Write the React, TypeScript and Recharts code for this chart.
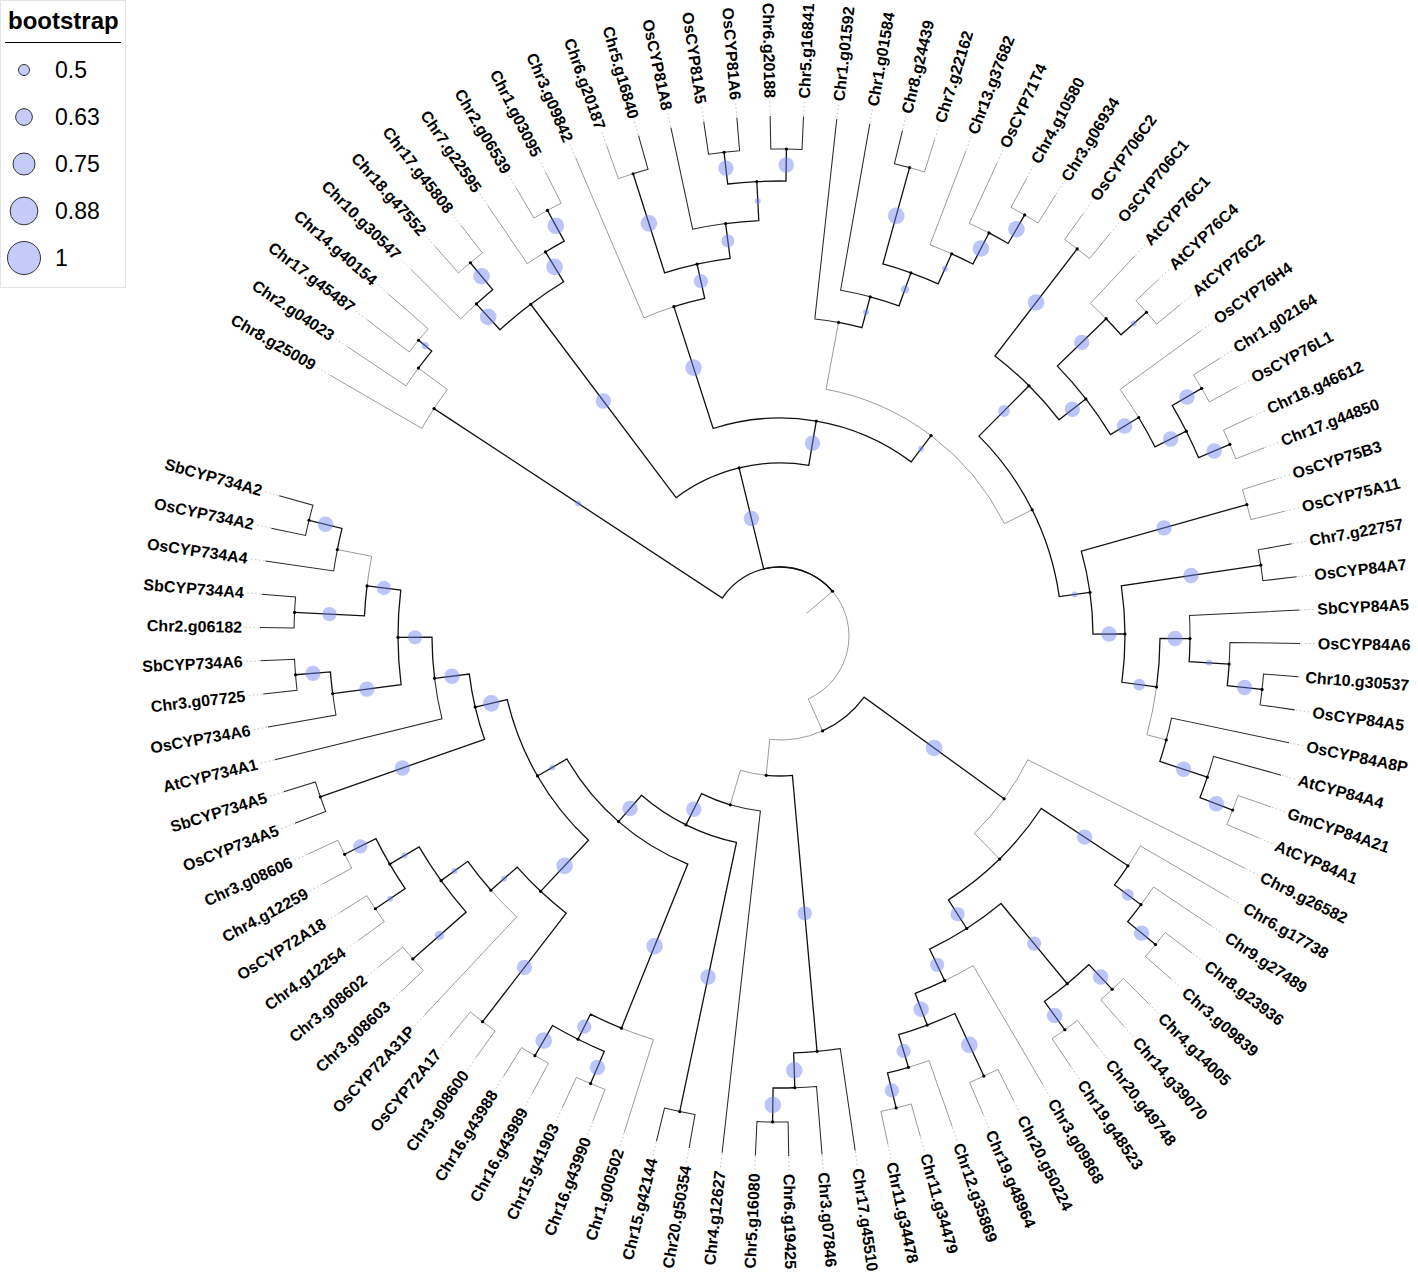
import React from "react";
import * as Recharts from "recharts";
import { ScatterChart, Scatter, XAxis, YAxis, Customized } from "recharts";

// leaves, clockwise from the upper left
const leafNames = [
  "Chr8.g25009", "Chr2.g04023", "Chr17.g45487", "Chr14.g40154", "Chr10.g30547",
  "Chr18.g47552", "Chr17.g45808", "Chr7.g22595", "Chr2.g06539", "Chr1.g03095",
  "Chr3.g09842", "Chr6.g20187", "Chr5.g16840", "OsCYP81A8", "OsCYP81A5",
  "OsCYP81A6", "Chr6.g20188", "Chr5.g16841", "Chr1.g01592", "Chr1.g01584",
  "Chr8.g24439", "Chr7.g22162", "Chr13.g37682", "OsCYP71T4", "Chr4.g10580",
  "Chr3.g06934", "OsCYP706C2", "OsCYP706C1", "AtCYP76C1", "AtCYP76C4",
  "AtCYP76C2", "OsCYP76H4", "Chr1.g02164", "OsCYP76L1", "Chr18.g46612",
  "Chr17.g44850", "OsCYP75B3", "OsCYP75A11", "Chr7.g22757", "OsCYP84A7",
  "SbCYP84A5", "OsCYP84A6", "Chr10.g30537", "OsCYP84A5", "OsCYP84A8P",
  "AtCYP84A4", "GmCYP84A21", "AtCYP84A1", "Chr9.g26582", "Chr6.g17738",
  "Chr9.g27489", "Chr8.g23936", "Chr3.g09839", "Chr4.g14005", "Chr14.g39070",
  "Chr20.g49748", "Chr19.g48523", "Chr3.g09868", "Chr20.g50224", "Chr19.g48964",
  "Chr12.g35869", "Chr11.g34479", "Chr11.g34478", "Chr17.g45510", "Chr3.g07846",
  "Chr6.g19425", "Chr5.g16080", "Chr4.g12627", "Chr20.g50354", "Chr15.g42144",
  "Chr1.g00502", "Chr16.g43990", "Chr15.g41903", "Chr16.g43989", "Chr16.g43988",
  "Chr3.g08600", "OsCYP72A17", "OsCYP72A31P", "Chr3.g08603", "Chr3.g08602",
  "Chr4.g12254", "OsCYP72A18", "Chr4.g12259", "Chr3.g08606", "OsCYP734A5",
  "SbCYP734A5", "AtCYP734A1", "OsCYP734A6", "Chr3.g07725", "SbCYP734A6",
  "Chr2.g06182", "SbCYP734A4", "OsCYP734A4", "OsCYP734A2", "SbCYP734A2",
];

type Child = string | number; // number = leaf position (1-based)

const nodeChildren: Record<string, Child[]> = {
  root: ["N1", "T", "A"],
  N1: [1, "N2"], N2: [2, "N3"], N3: [3, 4],
  T: ["Q3", "T2"],
  Q3: ["P1", "Q2"], P1: [5, "P2"], P2: [6, 7], Q2: [8, "Q1"], Q1: [9, 10],
  T2: ["U", "Z0"],
  U: [11, "V"], V: ["W", "Y4"], W: [12, 13], Y4: [14, "Y3"], Y3: ["Y1", "Y2"],
  Y1: [15, 16], Y2: [17, 18],
  Z0: ["Z1", "Z7"], Z1: [19, "Z2"], Z2: [20, "Z3"], Z3: ["ZP", "Z4"], ZP: [21, 22],
  Z4: [23, "Z5"], Z5: [24, "Z6"], Z6: [25, 26],
  Z7: ["Z8", "Z17"], Z8: ["Z9", "Z10"], Z9: [27, 28], Z10: ["Z11", "Z13"],
  Z11: [29, "Z12"], Z12: [30, 31], Z13: [32, "Z14"], Z14: ["Z15", "Z16"],
  Z15: [33, 34], Z16: [35, 36],
  Z17: ["Z18", "R1"], Z18: [37, 38], R1: ["R8", "R2"], R8: [39, 40],
  R2: ["R3", "R4"], R3: [41, "R5"], R5: [42, "R9"], R9: [43, 44],
  R4: [45, "R6"], R6: [46, "R7"], R7: [47, 48],
  A: ["A1", "A2"],
  A1: [49, "A3"], A3: ["A4", "A7"], A4: [50, "A5"], A5: [51, "A6"], A6: [52, 53],
  A7: ["A8", "A11"], A8: ["A9", "A10"], A9: [54, 55], A10: [56, 57],
  A11: [58, "A12"], A12: ["A13", "A14"], A13: [59, 60], A14: [61, "A15"], A15: [62, 63],
  A2: ["A16", "A19"], A16: [64, "A17"], A17: [65, "A18"], A18: [66, 67],
  A19: [68, "A21"], A21: ["X", "Y"], X: [69, 70], Y: ["B1", "C1"],
  B1: [71, "B2"], B2: ["B4", "B3"], B4: [72, 73], B3: [74, 75],
  C1: ["C2", "C3"], C2: ["C4", "C5"], C4: [76, 77], C5: [78, "C6"],
  C6: ["C7", "C8"], C7: [79, 80], C8: ["C9", "C10"], C9: [81, 82], C10: [83, 84],
  C3: ["C11", "C12"], C11: [85, 86], C12: [87, "C13"], C13: ["C14", "C16"],
  C14: [88, "C15"], C15: [89, 90], C16: ["C17", "C18"], C17: [91, 92],
  C18: [93, "C19"], C19: [94, 95],
};

// distance of each internal node from the centre (tips sit at 520)
const nodeDepth: Record<string, number> = {
  root: 69, N1: 414, N2: 450, N3: 467,
  T: 173, Q3: 415, P1: 450, P2: 485, Q2: 450, Q1: 485,
  T2: 218, U: 346, V: 381, W: 485, Y4: 416, Y3: 455, Y1: 487, Y2: 487,
  Z0: 251, Z1: 319, Z2: 351, Z3: 386, ZP: 486, Z4: 419, Z5: 454, Z6: 487,
  Z7: 282, Z8: 353, Z9: 488, Z10: 387, Z11: 455, Z12: 489, Z13: 420, Z14: 455,
  Z15: 489, Z16: 489,
  Z17: 313, Z18: 485, R1: 345, R8: 486, R2: 380, R3: 410, R5: 450, R9: 485,
  R4: 400, R6: 450, R7: 485,
  A: 104, A1: 277, A3: 313, A4: 417, A5: 450, A6: 486, A7: 347, A8: 451, A9: 485,
  A10: 486, A11: 382, A12: 416, A13: 485, A14: 450, A15: 486,
  A2: 140, A16: 417, A17: 452, A18: 486,
  A19: 176, A21: 211, X: 486, Y: 246, B1: 423, B2: 451, B4: 486, B3: 486,
  C1: 280, C2: 350, C4: 487, C5: 385, C6: 418, C7: 489, C8: 452, C9: 488, C10: 487,
  C3: 313, C11: 487, C12: 348, C13: 382, C14: 451, C15: 486, C16: 416, C17: 486,
  C18: 451, C19: 485,
};

// bootstrap support of the branch leading to a node
const nodeSupport: Record<string, number> = {
  N1: 0.5, N3: 0.55, T: 0.9, Q3: 0.9, P1: 0.95, P2: 0.95, Q2: 0.95, Q1: 0.95,
  T2: 0.9, U: 0.95, V: 0.85, W: 0.95, Y4: 0.8, Y3: 0.5, Y1: 0.9, Y2: 0.9,
  Z0: 0.5, Z2: 0.5, Z3: 0.6, ZP: 0.95, Z4: 0.5, Z5: 0.95, Z6: 0.95,
  Z8: 0.75, Z9: 0.95, Z10: 0.9, Z11: 0.9, Z12: 0.5, Z13: 0.9, Z14: 0.9, Z15: 0.9, Z16: 0.9,
  Z17: 0.5, Z18: 0.9, R1: 0.9, R8: 0.9, R2: 0.75, R3: 0.9, R5: 0.5, R9: 0.9,
  R6: 0.9, R7: 0.9,
  A1: 0.95, A4: 0.9, A5: 0.75, A6: 0.9, A7: 0.85, A8: 0.85, A9: 0.9, A10: 0.9,
  A11: 0.85, A12: 0.9, A13: 0.95, A14: 0.85, A15: 0.85,
  A16: 0.85, A17: 0.95, A18: 0.95,
  A21: 0.9, X: 0.9, Y: 0.9, B1: 0.95, B2: 0.85, B4: 0.9, B3: 0.95,
  C1: 0.5, C2: 0.95, C4: 0.9, C5: 0.5, C6: 0.5, C7: 0.65, C8: 0.5, C9: 0.5, C10: 0.85,
  C3: 0.95, C11: 0.9, C12: 0.9, C13: 0.85, C14: 0.9, C15: 0.9, C16: 0.85, C17: 0.85,
  C19: 0.9,
};

// leaves whose terminal branch is drawn dark in the figure
const darkLeaves = [
  13, 14, 15, 16, 17, 18, 19, 20, 21, 39, 40, 41, 42, 43, 44, 45, 46,
  64, 65, 66, 67, 68, 69, 70, 85, 86, 87, 88, 89, 90, 91, 92, 93, 94, 95,
];

const legendBreaks = [0.5, 0.63, 0.75, 0.88, 1];

// ---- layout ----
const W = 1418;
const H = 1277;
const X_DOMAIN = [-780, 638];
const Y_DOMAIN = [-641, 636];
const FIRST_ANGLE = -149.9;
const ANGLE_STEP = 3.676;
const TIP_DEPTH = 520;
const LABEL_DEPTH = 538;
const ROOT_EDGE_FROM = 35;
const LABEL_FONT = 16;
const labelInset: Record<number, number> = { 43: 11 };

const angleMemo: Record<string, number> = {};
function angleOf(c: Child): number {
  if (typeof c === "number") return FIRST_ANGLE + (c - 1) * ANGLE_STEP;
  if (angleMemo[c] === undefined) {
    const ch = nodeChildren[c];
    angleMemo[c] = (angleOf(ch[0]) + angleOf(ch[ch.length - 1])) / 2;
  }
  return angleMemo[c];
}
const depthOf = (c: Child) => (typeof c === "number" ? TIP_DEPTH : nodeDepth[c]);
const rad = (a: number) => (a * Math.PI) / 180;
const polar = (r: number, a: number) => ({ x: r * Math.cos(rad(a)), y: -r * Math.sin(rad(a)) });

const parentOf: Record<string, string> = {};
Object.keys(nodeChildren).forEach((id) =>
  nodeChildren[id].forEach((c) => {
    if (typeof c === "string") parentOf[c] = id;
  })
);

const edgeWeight = (c: Child) => {
  if (typeof c === "number") return darkLeaves.includes(c) ? 1 : 0;
  return nodeSupport[c] !== undefined ? 2 : 0;
};

const edges = Object.keys(nodeChildren).flatMap((id) =>
  nodeChildren[id].map((c) => ({
    key: `${id}-${c}`,
    pr: nodeDepth[id],
    pa: angleOf(id),
    cr: depthOf(c),
    ca: angleOf(c),
    weight: edgeWeight(c),
  }))
);

const nodePoints = Object.keys(nodeChildren).map((id) => ({ id, ...polar(nodeDepth[id], angleOf(id)) }));

const supportPoints = Object.keys(nodeSupport).map((id) => ({
  id,
  b: nodeSupport[id],
  ...polar((nodeDepth[id] + nodeDepth[parentOf[id]]) / 2, angleOf(id)),
}));

const labelPoints = leafNames.map((name, i) => ({
  name,
  angle: angleOf(i + 1),
  ...polar(LABEL_DEPTH - (labelInset[i + 1] || 0), angleOf(i + 1)),
}));

const legendRadius = (b: number) => 5.5 + (b - 0.5) * 22;

// ---- drawing ----
const RC: any = Recharts;

function usePixelMap() {
  const xs = RC.useXAxisScale ? RC.useXAxisScale() : undefined;
  const ys = RC.useYAxisScale ? RC.useYAxisScale() : undefined;
  const px = (v: number) => {
    const s = typeof xs === "function" ? xs(v) : undefined;
    return typeof s === "number" && !isNaN(s) ? s : ((v - X_DOMAIN[0]) / (X_DOMAIN[1] - X_DOMAIN[0])) * W;
  };
  const py = (v: number) => {
    const s = typeof ys === "function" ? ys(v) : undefined;
    return typeof s === "number" && !isNaN(s) ? s : ((Y_DOMAIN[1] - v) / (Y_DOMAIN[1] - Y_DOMAIN[0])) * H;
  };
  return { px, py };
}

const edgeStroke = ["#7a7a7a", "#2a2a2a", "#111"];
const edgeWidth = [0.75, 1.05, 1.3];

function BranchLayer() {
  const { px, py } = usePixelMap();
  const k = Math.abs(px(100) - px(0)) / 100;
  const pt = (r: number, a: number) => {
    const p = polar(r, a);
    return [px(p.x), py(p.y)];
  };
  const drawEdge = (e: (typeof edges)[number]) => {
    const [ax, ay] = pt(e.pr, e.pa);
    const [bx, by] = pt(e.pr, e.ca);
    const [cx, cy] = pt(e.cr, e.ca);
    const sweep = e.ca > e.pa ? 1 : 0;
    const large = Math.abs(e.ca - e.pa) > 180 ? 1 : 0;
    const rr = e.pr * k;
    return (
      <path
        key={e.key}
        d={`M${ax},${ay} A${rr},${rr} 0 ${large} ${sweep} ${bx},${by} L${cx},${cy}`}
        fill="none"
        stroke={edgeStroke[e.weight]}
        strokeWidth={edgeWidth[e.weight]}
      />
    );
  };
  const rootA = angleOf("root");
  const [r0x, r0y] = pt(ROOT_EDGE_FROM, rootA);
  const [r1x, r1y] = pt(nodeDepth.root, rootA);
  return (
    <g>
      {labelPoints.map((l, i) => {
        const [x1, y1] = pt(TIP_DEPTH + 1, l.angle);
        const [x2, y2] = pt(LABEL_DEPTH - 3 - (labelInset[i + 1] || 0), l.angle);
        return <line key={i} x1={x1} y1={y1} x2={x2} y2={y2} stroke="#b0b0b0" strokeWidth={0.8} strokeDasharray="1.5 2.5" />;
      })}
      <line x1={r0x} y1={r0y} x2={r1x} y2={r1y} stroke="#7a7a7a" strokeWidth={0.75} />
      {[0, 1, 2].map((w) => edges.filter((e) => e.weight === w).map(drawEdge))}
    </g>
  );
}

function SupportLegend() {
  const font = "'Liberation Sans', Arial, sans-serif";
  return (
    <g>
      <rect x={0.5} y={0.5} width={125} height={287} fill="#ffffff" stroke="#e4e4e4" />
      <text x={8} y={29} fontFamily={font} fontWeight="bold" fontSize={24} fill="#000">
        bootstrap
      </text>
      <line x1={5} x2={121} y1={42.5} y2={42.5} stroke="#000" strokeWidth={1.2} />
      {legendBreaks.map((b, i) => (
        <g key={b}>
          <circle cx={24} cy={70 + i * 47} r={legendRadius(b)} fill="#c6ccf9" stroke="#333" strokeWidth={1} />
          <text x={55} y={70 + i * 47} dominantBaseline="central" fontFamily={font} fontSize={23} fill="#000">
            {String(b)}
          </text>
        </g>
      ))}
    </g>
  );
}

const renderLabel = (p: any) => {
  const { cx, cy, payload } = p;
  const flip = Math.cos(rad(payload.angle)) < 0;
  const rot = flip ? payload.angle + 180 : payload.angle;
  return (
    <text
      x={cx}
      y={cy}
      transform={`rotate(${rot} ${cx} ${cy})`}
      textAnchor={flip ? "end" : "start"}
      dominantBaseline="central"
      fontFamily="'Liberation Sans', Arial, sans-serif"
      fontWeight="bold"
      fontSize={LABEL_FONT}
      fill="#000"
    >
      {payload.name}
    </text>
  );
};

const renderNode = (p: any) => <circle cx={p.cx} cy={p.cy} r={1.6} fill="#000" />;

const renderSupport = (p: any) => (
  <circle cx={p.cx} cy={p.cy} r={legendRadius(p.payload.b) * 0.54} fill="#6a7ff0" fillOpacity={0.45} />
);

export default function App() {
  return (
    <div style={{ width: W, height: H, background: "#fff" }}>
      <style>{"body{margin:0;background:#fff}"}</style>
      <ScatterChart width={W} height={H} margin={{ top: 0, right: 0, bottom: 0, left: 0 }}>
        <XAxis type="number" dataKey="x" domain={X_DOMAIN} hide allowDataOverflow />
        <YAxis type="number" dataKey="y" domain={Y_DOMAIN} hide allowDataOverflow />
        <Customized component={BranchLayer} />
        <Scatter data={nodePoints} shape={renderNode} isAnimationActive={false} />
        <Scatter data={supportPoints} shape={renderSupport} isAnimationActive={false} />
        <Scatter data={labelPoints} shape={renderLabel} isAnimationActive={false} />
        <Customized component={SupportLegend} />
      </ScatterChart>
    </div>
  );
}
